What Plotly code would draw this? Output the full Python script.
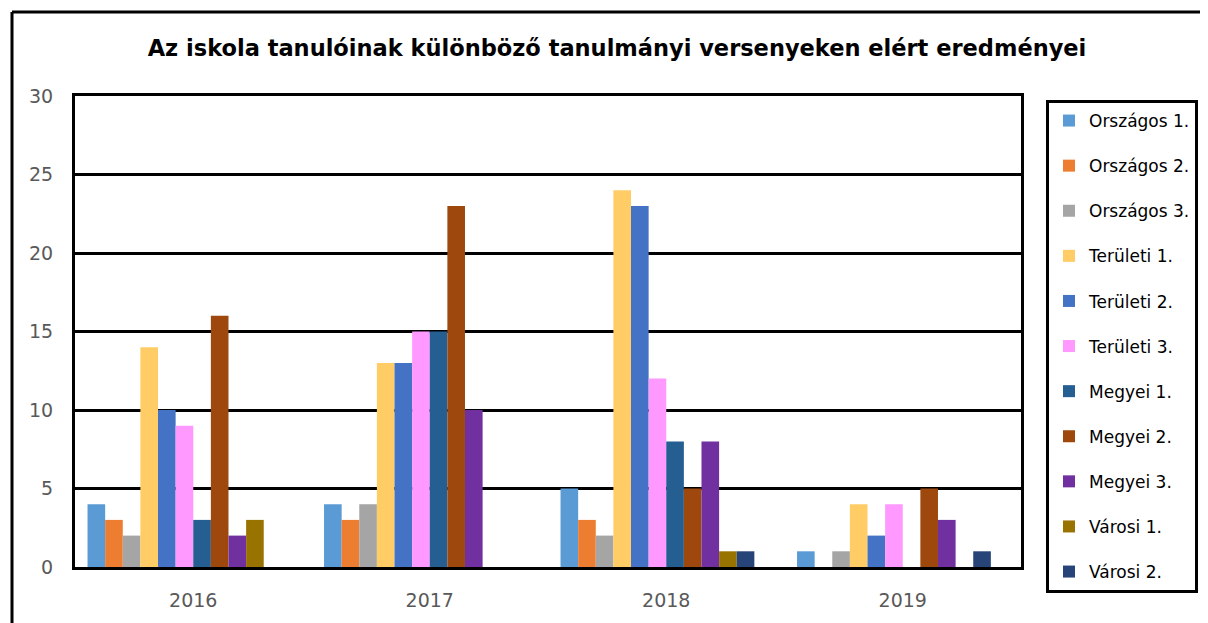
import plotly.graph_objects as go

years = ["2016", "2017", "2018", "2019"]
series_names = ["Országos 1.", "Országos 2.", "Országos 3.", "Területi 1.", "Területi 2.",
                "Területi 3.", "Megyei 1.", "Megyei 2.", "Megyei 3.", "Városi 1.", "Városi 2."]
orszagos_1 = [4, 4, 5, 1]
orszagos_2 = [3, 3, 3, 0]
orszagos_3 = [2, 4, 2, 1]
teruleti_1 = [14, 13, 24, 4]
teruleti_2 = [10, 13, 23, 2]
teruleti_3 = [9, 15, 12, 4]
megyei_1 = [3, 15, 8, 0]
megyei_2 = [16, 23, 5, 5]
megyei_3 = [2, 10, 8, 3]
varosi_1 = [3, 0, 1, 0]
varosi_2 = [0, 0, 1, 1]
colors = ["#5B9BD5", "#ED7D31", "#A5A5A5", "#FFCC66", "#4472C4", "#FF99FF",
          "#255E91", "#9E480E", "#7030A0", "#997300", "#264478"]
y_ticks = [0, 5, 10, 15, 20, 25, 30]

values = [orszagos_1, orszagos_2, orszagos_3, teruleti_1, teruleti_2, teruleti_3,
          megyei_1, megyei_2, megyei_3, varosi_1, varosi_2]

FONT = "DejaVu Sans"
OFF = 8  # page body margin offset
W, H = 1208 - OFF, 623 - OFF
L, R, T, B = 75 - OFF, 1021 - OFF, 96 - OFF, 567 - OFF

fig = go.Figure()
for i, (name, vals, col) in enumerate(zip(series_names, values, colors)):
    fig.add_trace(go.Bar(x=years, y=vals, name=name, marker_color=col,
                         marker_line_width=0, legendgroup=f"g{i}"))
# empty slot series (reserves space in each group, as in the original)
fig.add_trace(go.Bar(x=years, y=[0, 0, 0, 0], name="", marker_color="rgba(0,0,0,0)",
                     marker_line_width=0, showlegend=False, hoverinfo="skip"))

fig.update_layout(
    width=W, height=H,
    margin=dict(l=L, r=W - R, t=T, b=H - B, autoexpand=False),
    paper_bgcolor="white", plot_bgcolor="white",
    barmode="group", bargap=0.106, bargroupgap=0,
    title=dict(text="<b>Az iskola tanulóinak különböző tanulmányi versenyeken elért eredményei</b>",
               font=dict(family=FONT, size=22.5, color="black"),
               xref="container", x=(617 - OFF) / W, xanchor="center",
               yref="container", y=1 - (48 - OFF) / H, yanchor="middle"),
    legend=dict(xref="container", x=(1046 - OFF) / W, xanchor="left",
                yref="container", y=1 - (100 - OFF) / H, yanchor="top",
                bordercolor="black", borderwidth=3, bgcolor="white",
                font=dict(family=FONT, size=17, color="black"),
                traceorder="grouped", tracegroupgap=20, maxheight=600,
                itemclick=False),
    showlegend=True,
)
fig.update_xaxes(showline=True, linecolor="black", linewidth=3, mirror=True,
                 showgrid=False, ticks="", ticklabelstandoff=14,
                 tickfont=dict(family=FONT, size=19, color="#595959"))
fig.update_yaxes(range=[0, 30], tickvals=y_ticks, showline=True, linecolor="black",
                 linewidth=3, mirror=True, showgrid=True, gridcolor="black", gridwidth=3,
                 zeroline=False, ticks="", ticklabelstandoff=15,
                 tickfont=dict(family=FONT, size=19, color="#595959"))
# outer chart border (extends past the right and bottom edges of the picture)
bx, by = 12 - OFF, 12 - OFF
fig.add_shape(type="line", xref="paper", yref="paper",
              x0=(bx - L) / (R - L), x1=(W + 20 - L) / (R - L),
              y0=(B - by) / (B - T), y1=(B - by) / (B - T),
              line=dict(color="black", width=3), layer="above")
fig.add_shape(type="line", xref="paper", yref="paper",
              x0=(bx - L) / (R - L), x1=(bx - L) / (R - L),
              y0=(B - by) / (B - T), y1=(B - H - 20) / (B - T),
              line=dict(color="black", width=3), layer="above")

fig.write_html("out.html")
